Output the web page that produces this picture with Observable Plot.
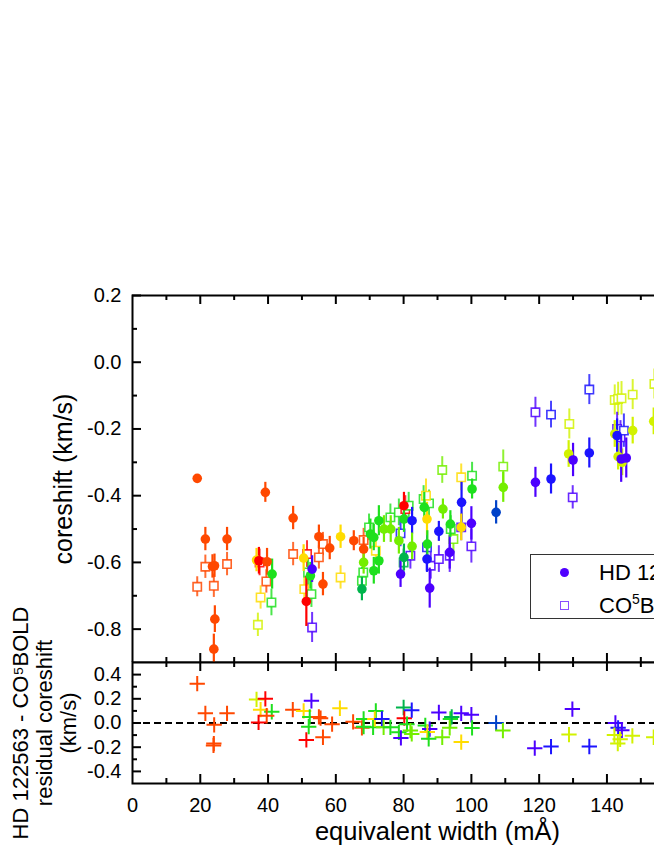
<!DOCTYPE html>
<html><head><meta charset="utf-8">
<script src="https://cdn.jsdelivr.net/npm/d3@7"></script>
<script src="https://cdn.jsdelivr.net/npm/@observablehq/plot@0.6"></script>
<style>
html,body{margin:0;padding:0;background:#fff;overflow:hidden;width:654px;height:846px}
#wrap{position:relative;width:760px;height:846px}
#wrap svg{display:block;max-width:none!important}
.legend{position:absolute;left:530px;top:554px;width:230px;height:63px;border:1.8px solid #333;background:#fff;font-family:"Liberation Sans",Arial,sans-serif;font-size:22px;color:#000}
.legend .c{position:absolute;left:29px;top:12.5px;width:9px;height:9px;border-radius:50%;background:#5000ff}
.legend .s{position:absolute;left:29px;top:45.5px;width:7px;height:7px;border:1.5px solid #8a4dff;background:#fff}
.legend .t{position:absolute;left:68px;line-height:22px;white-space:nowrap}
.legend .sup{font-size:14px;position:relative;top:-9px}
</style>
</head><body>
<div id="wrap"></div>
<script>
// ---- colour groups ----
const colorKeys = ["R","OR","Y","YG","LG","G","DG","B","V","DB"];
const colorHex  = ["#ff0000","#ff4800","#ffdc00","#d2f200","#74ee00","#1ee01e","#00b44c","#1c14ff","#4c00ff","#0042c8"];

// ---- HD 122563 (observed, filled circles) ----
const obsEW = [19.1,21.5,23.6,24.2,24.3,24.0,27.9,36.6,37.3,39.2,39.7,41.2,47.4,50.5,51.3,52.5,53.0,55.0,56.2,58.2,61.4,65.3,68.2,68.2,67.7,71.2,72.7,70.2,71.2,72.7,74.2,76.2,78.6,80.1,80.1,82.5,80.1,79.1,82.5,86.1,86.9,86.9,87.7,87.0,90.4,91.6,93.6,93.8,97.1,97.0,100.2,100.0,107.3,109.4,118.9,123.5,128.7,130.0,134.8,142.3,143.3,144.5,144.2,145.7,147.6,153.8,143.0];
const obsShift = [-0.348,-0.530,-0.612,-0.610,-0.770,-0.860,-0.530,-0.593,-0.595,-0.390,-0.598,-0.635,-0.467,-0.587,-0.717,-0.640,-0.620,-0.523,-0.665,-0.557,-0.523,-0.535,-0.560,-0.600,-0.680,-0.625,-0.595,-0.515,-0.525,-0.475,-0.500,-0.500,-0.535,-0.430,-0.470,-0.475,-0.585,-0.635,-0.552,-0.435,-0.470,-0.590,-0.677,-0.545,-0.507,-0.440,-0.570,-0.485,-0.420,-0.495,-0.380,-0.483,-0.450,-0.375,-0.360,-0.350,-0.275,-0.293,-0.272,-0.215,-0.283,-0.300,-0.290,-0.287,-0.205,-0.177,-0.220];
const obsErr = [0.008,0.035,0.035,0.035,0.04,0.045,0.035,0.035,0.04,0.03,
                0.04,0.045,0.035,0.04,0.075,0.04,0.04,0.035,0.035,0.035,
                0.035,0.03,0.035,0.035,0.035,0.04,0.04,0.045,0.04,0.045,
                0.04,0.04,0.04,0.04,0.04,0.04,0.04,0.04,0.04,0.045,
                0.05,0.04,0.06,0.04,0.03,0.03,0.05,0.04,0.06,0.04,
                0.03,0.05,0.035,0.045,0.045,0.045,0.04,0.05,0.045,0.04,
                0.04,0.04,0.07,0.06,0.04,0.04,0.05];
const obsCol = ["OR","OR","OR","OR","OR","OR","OR","Y","R","OR",
                "OR","G","OR","Y","R","G","V","OR","OR","OR",
                "Y","OR","OR","LG","DG","G","G","G","G","G",
                "LG","LG","LG","R","G","B","DG","V","LG","G",
                "Y","B","V","G","B","LG","V","G","B","Y",
                "G","V","DB","LG","V","B","YG","V","B","YG",
                "YG","YG","V","V","YG","YG","B"];

// ---- CO5BOLD (model, open squares) ----
const modEW = [19.1,21.5,24.0,27.9,37.5,37.8,37.0,39.5,41.0,47.4,50.7,51.5,51.8,52.8,53.0,55.0,56.2,61.4,68.2,67.7,68.1,69.8,71.8,76.1,78.6,79.1,80.0,80.5,81.5,82.0,85.9,87.5,86.6,86.9,88.0,90.4,91.4,93.6,93.9,94.7,97.0,97.0,100.2,100.0,109.4,118.9,123.5,128.9,129.9,134.8,142.3,143.3,144.3,147.6,143.0,144.0,145.0,154.0];
const modShift = [-0.673,-0.613,-0.670,-0.605,-0.600,-0.705,-0.787,-0.657,-0.720,-0.575,-0.680,-0.575,-0.630,-0.695,-0.795,-0.585,-0.545,-0.645,-0.533,-0.655,-0.630,-0.495,-0.565,-0.465,-0.450,-0.513,-0.600,-0.440,-0.430,-0.580,-0.410,-0.423,-0.400,-0.555,-0.610,-0.590,-0.323,-0.580,-0.500,-0.530,-0.345,-0.495,-0.340,-0.552,-0.313,-0.150,-0.157,-0.185,-0.405,-0.082,-0.113,-0.110,-0.108,-0.097,-0.200,-0.225,-0.205,-0.065];
const modErr = [0.03,0.035,0.035,0.035,0.04,0.035,0.035,0.035,0.04,0.035,
                0.035,0.04,0.04,0.04,0.045,0.035,0.035,0.035,0.035,0.04,
                0.04,0.04,0.04,0.04,0.04,0.04,0.04,0.04,0.04,0.04,
                0.04,0.04,0.05,0.04,0.04,0.04,0.04,0.05,0.04,0.04,
                0.04,0.04,0.04,0.05,0.05,0.045,0.04,0.045,0.035,0.045,
                0.045,0.05,0.05,0.045,0.05,0.05,0.05,0.045];
const modCol = ["OR","OR","OR","OR","R","Y","YG","OR","G","OR",
                "Y","R","G","G","V","OR","OR","Y","OR","G",
                "G","G","Y","G","G","B","DG","R","G","V",
                "G","G","Y","B","V","V","LG","V","G","LG",
                "Y","V","G","V","LG","V","B","YG","V","B",
                "YG","YG","YG","YG","V","V","B","YG"];

// ---- residuals HD 122563 - CO5BOLD (plus signs) ----
const resEW = [19.1,21.5,27.9,24.1,24.0,23.9,36.6,39.2,37.8,41.1,39.6,37.2,47.3,50.5,52.8,52.3,52.0,51.3,55.0,55.5,56.2,58.9,61.2,65.1,67.7,68.2,68.2,71.0,71.8,71.5,73.6,74.1,76.1,78.6,79.2,80.0,80.2,82.4,81.0,82.0,82.4,86.4,87.7,87.0,87.4,90.4,91.4,93.8,94.2,93.6,97.0,97.0,100.0,100.2,107.3,109.3,118.7,123.5,128.8,129.8,134.8,142.5,143.3,144.4,142.2,143.2,143.9,147.5,153.8];
const resVal = [0.325,0.08,0.08,-0.015,-0.17,-0.185,0.195,0.2,0.11,0.093,0.06,0.005,0.11,0.1,0.183,0.05,-0.03,-0.14,0.05,0.04,-0.118,-0.01,0.122,0.01,-0.04,0.033,-0.03,-0.035,0.1,0.033,0.033,-0.036,-0.036,-0.077,-0.123,0.128,0.04,0.106,-0.01,-0.063,-0.09,-0.02,-0.05,-0.075,-0.13,0.087,-0.118,0.033,0.05,-0.04,0.08,-0.158,0.068,-0.041,0.0,-0.063,-0.208,-0.195,-0.096,0.115,-0.194,0.0,-0.04,-0.06,-0.1,-0.17,-0.135,-0.106,-0.118];
const resCol = ["OR","OR","OR","OR","OR","OR","YG","R","Y","G","OR","R","OR","Y","V","G","G","R","OR","OR","OR","OR","Y","OR","OR","G","G","G","G","Y","B","LG","G","G","V","DG","R","B","G","LG","LG","G","V","Y","G","V","LG","G","DG","LG","V","Y","V","G","DB","LG","V","B","YG","V","B","V","B","V","YG","YG","YG","YG","YG"];

// ---- ticks ----
const xMajor = [20,40,60,80,100,120,140,160];
const xMinor = [10,30,50,70,90,110,130,150,170];
const xLabels = [0,20,40,60,80,100,120,140];
const yMainMajor = [0.2,0,-0.2,-0.4,-0.6,-0.8];
const yMainMinor = [0.1,-0.1,-0.3,-0.5,-0.7];
const yResMajor = [0.4,0.2,0,-0.2,-0.4];
const yResMinor = [0.3,0.1,-0.1,-0.3];

const obs = obsEW.map((x,i)=>({x, y:obsShift[i], e:obsErr[i], c:obsCol[i]}));
const mod = modEW.map((x,i)=>({x, y:modShift[i], e:modErr[i], c:modCol[i]}));
const res = resEW.map((x,i)=>({x, y:resVal[i], c:resCol[i]}));

const W = 760, ML = 132, MR = 18;
const IW = W - ML - MR;
const mainH = 662, mainMT = 295, mainIH = mainH - mainMT;
const resH = 184, resMB = 63, resIH = resH - resMB;
const font = '"Liberation Sans", Arial, Helvetica, sans-serif';
const colorScale = {domain: colorKeys, range: colorHex};
const K = "#000";

const mainPlot = Plot.plot({
  width: W, height: mainH,
  marginTop: mainMT, marginBottom: 0, marginLeft: ML, marginRight: MR,
  x: {domain: [0, 180], axis: null},
  y: {domain: [-0.9, 0.2], axis: null},
  color: colorScale,
  style: {fontFamily: font, fontSize: "20px", color: "#000", background: "transparent"},
  marks: [
    Plot.frame({stroke: K, strokeWidth: 2}),
    Plot.tickX(xMajor, {x: d=>d, insetBottom: mainIH - 9, stroke: K, strokeWidth: 2}),
    Plot.tickX(xMinor, {x: d=>d, insetBottom: mainIH - 5, stroke: K, strokeWidth: 2}),
    Plot.tickX(xMajor, {x: d=>d, insetTop: mainIH - 9, stroke: K, strokeWidth: 2}),
    Plot.tickX(xMinor, {x: d=>d, insetTop: mainIH - 5, stroke: K, strokeWidth: 2}),
    Plot.tickY(yMainMajor, {y: d=>d, insetRight: IW - 9, stroke: K, strokeWidth: 2}),
    Plot.tickY(yMainMinor, {y: d=>d, insetRight: IW - 5, stroke: K, strokeWidth: 2}),
    Plot.axisY({ticks: yMainMajor, anchor: "left", tickSize: 0, tickPadding: 11, tickFormat: d=>d.toFixed(1), label: null}),
    Plot.text(["coreshift (km/s)"], {text: d=>d, frameAnchor: "left", dx: -69, rotate: -90, fontSize: 25, textAnchor: "middle", lineAnchor: "middle"}),
    Plot.ruleX(mod, {x: "x", y1: d=>d.y - d.e, y2: d=>d.y + d.e, stroke: "c", strokeWidth: 2, strokeOpacity: 0.8}),
    Plot.dot(mod, {x: "x", y: "y", symbol: "square", r: 4.7, fill: "white", stroke: "c", strokeWidth: 1.6, strokeOpacity: 0.85}),
    Plot.ruleX(obs, {x: "x", y1: d=>d.y - d.e, y2: d=>d.y + d.e, stroke: "c", strokeWidth: 2.2}),
    Plot.dot(obs, {x: "x", y: "y", r: 4.8, fill: "c", stroke: null})
  ]
});

const resPlot = Plot.plot({
  width: W, height: resH,
  marginTop: 0, marginBottom: resMB, marginLeft: ML, marginRight: MR,
  x: {domain: [0, 180], axis: null},
  y: {domain: [-0.5, 0.5], axis: null},
  color: colorScale,
  style: {fontFamily: font, fontSize: "20px", color: "#000", background: "transparent", overflow: "visible"},
  marks: [
    Plot.frame({stroke: K, strokeWidth: 2}),
    Plot.tickX(xMajor, {x: d=>d, insetBottom: resIH - 9, stroke: K, strokeWidth: 2}),
    Plot.tickX(xMinor, {x: d=>d, insetBottom: resIH - 5, stroke: K, strokeWidth: 2}),
    Plot.tickX(xMajor, {x: d=>d, insetTop: resIH - 9, stroke: K, strokeWidth: 2}),
    Plot.tickX(xMinor, {x: d=>d, insetTop: resIH - 5, stroke: K, strokeWidth: 2}),
    Plot.tickY(yResMajor, {y: d=>d, insetRight: IW - 9, stroke: K, strokeWidth: 2}),
    Plot.tickY(yResMinor, {y: d=>d, insetRight: IW - 5, stroke: K, strokeWidth: 2}),
    Plot.axisY({ticks: yResMajor, anchor: "left", tickSize: 0, tickPadding: 11, tickFormat: d=>d.toFixed(1), label: null}),
    Plot.axisX({ticks: xLabels, anchor: "bottom", tickSize: 0, tickPadding: 14, tickFormat: d=>String(d), label: null}),
    Plot.text(["equivalent width (mÅ)"], {text: d=>d, frameAnchor: "bottom", dy: 56, fontSize: 25.5, textAnchor: "middle", lineAnchor: "bottom"}),
    Plot.text(["HD 122563 - CO\u2075BOLD\nresidual coreshift\n(km/s)"], {text: d=>d, frameAnchor: "left", dx: -88, rotate: -90, fontSize: 22, lineHeight: 1.08, textAnchor: "middle", lineAnchor: "middle"}),
    Plot.ruleY([0], {stroke: K, strokeWidth: 1.8, strokeDasharray: "7,4"}),
    Plot.dot(res, {x: "x", y: "y", symbol: "plus", r: 5, stroke: "c", strokeWidth: 2})
  ]
});

const wrap = document.getElementById("wrap");
wrap.appendChild(mainPlot);
wrap.appendChild(resPlot);

const leg = document.createElement("div");
leg.className = "legend";
leg.innerHTML = '<div class="c"></div><div class="t" style="top:6.5px">HD 122563</div>' +
                '<div class="s"></div><div class="t" style="top:39.5px">CO<span class="sup">5</span>BOLD</div>';
wrap.appendChild(leg);
</script>
</body></html>
